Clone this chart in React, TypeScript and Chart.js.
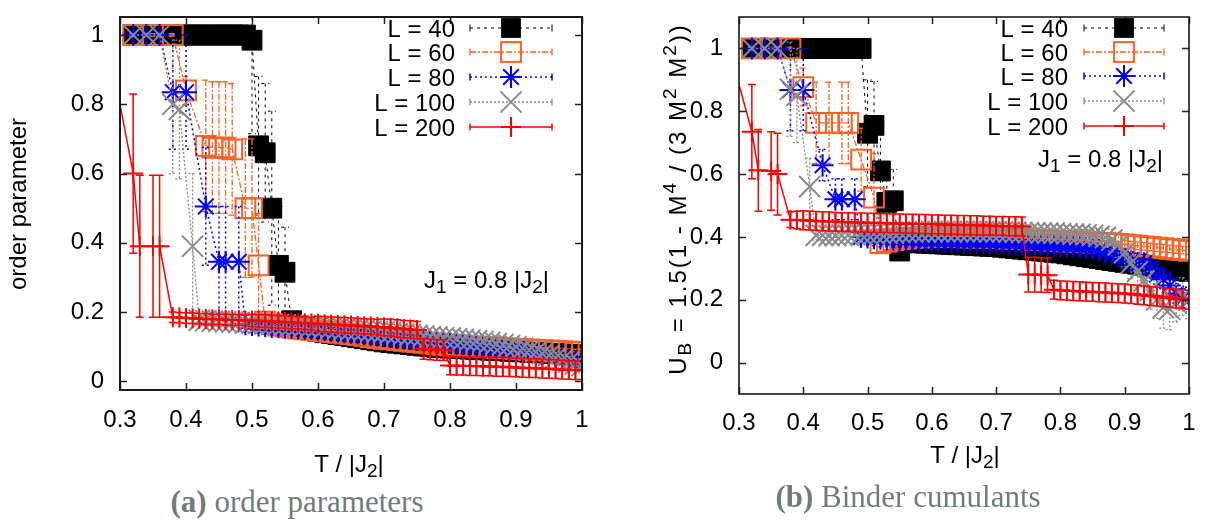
import React, { useEffect, useRef } from 'react';
import { Chart, registerables } from 'chart.js';

Chart.register(...registerables);

const _ = null;

// temperature grid T / |J2|
const TEMPS = [
  0.3, 0.31, 0.32, 0.33, 0.34, 0.35, 0.36, 0.37, 0.38, 0.39,
  0.4, 0.41, 0.42, 0.43, 0.44, 0.45, 0.46, 0.47, 0.48, 0.49,
  0.5, 0.51, 0.52, 0.53, 0.54, 0.55, 0.56, 0.57, 0.58, 0.59,
  0.6, 0.61, 0.62, 0.63, 0.64, 0.65, 0.66, 0.67, 0.68, 0.69,
  0.7, 0.71, 0.72, 0.73, 0.74, 0.75, 0.76, 0.77, 0.78, 0.79,
  0.8, 0.81, 0.82, 0.83, 0.84, 0.85, 0.86, 0.87, 0.88, 0.89,
  0.9, 0.91, 0.92, 0.93, 0.94, 0.95, 0.96, 0.97, 0.98, 0.99,
  1.0,
];

const SERIES_LABELS = ['L = 40', 'L = 60', 'L = 80', 'L = 100', 'L = 200'];
const X_TICKS = [0.3, 0.4, 0.5, 0.6, 0.7, 0.8, 0.9, 1.0];
const Y_TICKS = [0, 0.2, 0.4, 0.6, 0.8, 1.0];

// ---------- (a) order parameter ----------
const OP_L40 = [
  _, _, 1, _, 1, _, 1, _, 1, 1,
  1, 1, 1, 1, 1, 1, 1, 1, 1, 1,
  0.985, 0.68, 0.66, 0.5, 0.335, 0.315, 0.175, 0.16, 0.153, 0.148,
  0.144, 0.141, 0.138, 0.135, 0.132, 0.129, 0.126, 0.123, 0.12, 0.117,
  0.114, 0.112, 0.11, 0.108, 0.106, 0.104, 0.102, 0.1, 0.098, 0.097,
  0.096, 0.095, 0.094, 0.093, 0.092, 0.091, 0.09, 0.089, 0.088, 0.087,
  0.086, 0.085, 0.084, 0.083, 0.082, 0.081, 0.08, 0.079, 0.078, 0.077,
  0.076,
];
const OP_E40 = [
  0, 0, 0.004, 0, 0.004, 0, 0.004, 0, 0.004, 0.004,
  0.004, 0.004, 0.004, 0.004, 0.004, 0.004, 0.004, 0.004, 0.01, 0.02,
  0.27, 0.2, 0.2, 0.28, 0.17, 0.13, 0.02, 0.012, 0.01, 0.01,
  0.008, 0.008, 0.008, 0.008, 0.008, 0.008, 0.008, 0.008, 0.008, 0.008,
  0.008, 0.008, 0.008, 0.008, 0.008, 0.008, 0.008, 0.008, 0.008, 0.008,
  0.008, 0.008, 0.008, 0.008, 0.008, 0.008, 0.008, 0.008, 0.008, 0.008,
  0.008, 0.008, 0.008, 0.008, 0.008, 0.008, 0.008, 0.008, 0.008, 0.008,
  0.008,
];
const OP_L60 = [
  _, _, 1, _, _, 1, _, _, 1, _,
  0.84, _, _, 0.68, 0.675, 0.675, 0.675, 0.67, _, 0.5,
  0.5, 0.335, 0.172, 0.165, 0.161, 0.158, 0.155, 0.152, 0.15, 0.148,
  0.146, 0.144, 0.142, 0.14, 0.138, 0.136, 0.134, 0.131, 0.128, 0.125,
  0.123, 0.121, 0.119, 0.117, 0.115, 0.113, 0.111, 0.109, 0.107, 0.105,
  0.104, 0.103, 0.102, 0.101, 0.1, 0.099, 0.098, 0.097, 0.096, 0.095,
  0.094, 0.093, 0.092, 0.091, 0.09, 0.089, 0.088, 0.087, 0.086, 0.085,
  0.084,
];
const OP_E60 = [
  0, 0, 0.004, 0, 0, 0.004, 0, 0, 0.004, 0,
  0.04, 0, 0, 0.19, 0.19, 0.19, 0.19, 0.19, 0, 0.2,
  0.2, 0.15, 0.012, 0.01, 0.008, 0.008, 0.008, 0.008, 0.008, 0.008,
  0.008, 0.008, 0.008, 0.008, 0.008, 0.008, 0.008, 0.008, 0.008, 0.008,
  0.008, 0.008, 0.008, 0.008, 0.008, 0.008, 0.008, 0.008, 0.008, 0.008,
  0.008, 0.008, 0.008, 0.008, 0.008, 0.008, 0.008, 0.008, 0.008, 0.008,
  0.008, 0.008, 0.008, 0.008, 0.008, 0.008, 0.008, 0.008, 0.008, 0.008,
  0.008,
];
const OP_L80 = [
  _, _, 1, _, 1, _, 1, _, 0.835, _,
  0.835, _, _, 0.505, _, 0.345, 0.345, _, 0.345, 0.165,
  0.163, 0.161, 0.159, 0.157, 0.156, 0.155, 0.154, 0.153, 0.152, 0.151,
  0.15, 0.148, 0.146, 0.144, 0.142, 0.14, 0.138, 0.136, 0.134, 0.132,
  0.13, 0.128, 0.126, 0.124, 0.122, 0.12, 0.118, 0.116, 0.114, 0.112,
  0.111, 0.109, 0.107, 0.105, 0.103, 0.101, 0.099, 0.097, 0.095, 0.093,
  0.091, 0.088, 0.085, 0.082, 0.078, 0.074, 0.07, 0.066, 0.062, 0.058,
  0.054,
];
const OP_E80 = [
  0, 0, 0.004, 0, 0.004, 0, 0.004, 0, 0.165, 0,
  0.165, 0, 0, 0.17, 0, 0.16, 0.16, 0, 0.16, 0.012,
  0.01, 0.01, 0.01, 0.01, 0.01, 0.01, 0.01, 0.01, 0.01, 0.01,
  0.008, 0.008, 0.008, 0.008, 0.008, 0.008, 0.008, 0.008, 0.008, 0.008,
  0.008, 0.008, 0.008, 0.008, 0.008, 0.008, 0.008, 0.008, 0.008, 0.008,
  0.008, 0.008, 0.008, 0.008, 0.008, 0.008, 0.008, 0.008, 0.008, 0.008,
  0.012, 0.012, 0.012, 0.012, 0.012, 0.012, 0.012, 0.012, 0.012, 0.012,
  0.015,
];
const OP_L100 = [
  _, _, 1, _, 1, _, 1, _, 0.8, 0.785,
  _, 0.39, 0.176, 0.175, 0.174, 0.173, 0.172, 0.171, 0.17, 0.169,
  0.168, 0.167, 0.166, 0.165, 0.164, 0.163, 0.162, 0.161, 0.16, 0.159,
  0.158, 0.156, 0.154, 0.152, 0.15, 0.149, 0.148, 0.147, 0.145, 0.143,
  0.142, 0.14, 0.138, 0.136, 0.134, 0.133, 0.131, 0.129, 0.128, 0.126,
  0.125, 0.123, 0.121, 0.119, 0.117, 0.115, 0.112, 0.109, 0.106, 0.103,
  0.1, 0.095, 0.09, 0.085, 0.08, 0.075, 0.068, 0.062, 0.056, 0.05,
  0.045,
];
const OP_E100 = [
  0, 0, 0.004, 0, 0.004, 0, 0.004, 0, 0.2, 0.2,
  0, 0.21, 0.012, 0.01, 0.01, 0.01, 0.01, 0.01, 0.01, 0.01,
  0.01, 0.01, 0.01, 0.01, 0.01, 0.01, 0.01, 0.01, 0.01, 0.01,
  0.008, 0.008, 0.008, 0.008, 0.008, 0.008, 0.008, 0.008, 0.008, 0.008,
  0.008, 0.008, 0.008, 0.008, 0.008, 0.008, 0.008, 0.008, 0.008, 0.008,
  0.008, 0.008, 0.008, 0.008, 0.008, 0.008, 0.008, 0.008, 0.008, 0.008,
  0.015, 0.015, 0.015, 0.015, 0.015, 0.015, 0.015, 0.015, 0.015, 0.015,
  0.02,
];
const OP_L200 = [
  0.8, _, 0.6, 0.39, _, 0.39, 0.39, _, 0.185, 0.184,
  0.183, 0.182, 0.181, 0.18, 0.179, 0.179, 0.178, 0.177, 0.177, 0.176,
  0.176, 0.175, 0.174, 0.173, 0.172, 0.171, 0.17, 0.169, 0.168, 0.167,
  0.166, 0.165, 0.164, 0.163, 0.162, 0.161, 0.16, 0.159, 0.158, 0.157,
  0.156, 0.155, 0.153, 0.151, 0.15, 0.148, 0.094, 0.092, 0.091, 0.09,
  0.046, 0.045, 0.045, 0.044, 0.044, 0.043, 0.043, 0.042, 0.042, 0.041,
  0.04, 0.039, 0.038, 0.038, 0.037, 0.036, 0.035, 0.034, 0.033, 0.032,
  0.032,
];
const OP_E200 = [
  0, 0, 0.23, 0.205, 0, 0.205, 0.205, 0, 0.015, 0.015,
  0.015, 0.015, 0.015, 0.015, 0.015, 0.015, 0.015, 0.015, 0.015, 0.015,
  0.018, 0.018, 0.018, 0.018, 0.018, 0.018, 0.018, 0.018, 0.018, 0.018,
  0.022, 0.022, 0.022, 0.022, 0.022, 0.022, 0.022, 0.022, 0.022, 0.022,
  0.024, 0.024, 0.025, 0.025, 0.025, 0.025, 0.03, 0.03, 0.03, 0.03,
  0.027, 0.027, 0.027, 0.027, 0.027, 0.027, 0.027, 0.027, 0.027, 0.027,
  0.027, 0.027, 0.027, 0.027, 0.027, 0.027, 0.027, 0.027, 0.027, 0.027,
  0.027,
];

// ---------- (b) Binder cumulants ----------
const BC_L40 = [
  _, _, 1, _, 1, _, 1, _, 1, 1,
  1, 1, 1, 1, 1, 1, 1, 1, 1, 1,
  0.73, 0.755, 0.61, 0.51, 0.515, 0.355, 0.385, 0.383, 0.381, 0.38,
  0.379, 0.378, 0.377, 0.376, 0.375, 0.374, 0.373, 0.372, 0.371, 0.37,
  0.369, 0.367, 0.365, 0.363, 0.361, 0.359, 0.357, 0.355, 0.353, 0.351,
  0.349, 0.346, 0.343, 0.34, 0.337, 0.334, 0.331, 0.328, 0.325, 0.322,
  0.319, 0.316, 0.313, 0.31, 0.307, 0.304, 0.301, 0.298, 0.295, 0.292,
  0.29,
];
const BC_E40 = [
  0, 0, 0.004, 0, 0.004, 0, 0.004, 0, 0.004, 0.004,
  0.004, 0.004, 0.004, 0.004, 0.004, 0.004, 0.004, 0.004, 0.01, 0.02,
  0.17, 0.14, 0.15, 0.12, 0.1, 0.03, 0.01, 0.008, 0.008, 0.008,
  0.008, 0.008, 0.008, 0.008, 0.008, 0.008, 0.008, 0.008, 0.008, 0.008,
  0.008, 0.008, 0.008, 0.008, 0.008, 0.008, 0.008, 0.008, 0.008, 0.008,
  0.008, 0.008, 0.008, 0.008, 0.008, 0.008, 0.008, 0.008, 0.008, 0.008,
  0.008, 0.008, 0.008, 0.008, 0.008, 0.008, 0.008, 0.008, 0.008, 0.008,
  0.008,
];
const BC_L60 = [
  _, _, 1, _, _, 1, _, _, 1, _,
  0.877, _, 0.763, _, 0.763, _, 0.763, 0.763, _, 0.646,
  _, 0.525, 0.38, 0.385, 0.39, 0.393, 0.395, 0.397, 0.398, 0.399,
  0.4, 0.4, 0.4, 0.4, 0.4, 0.399, 0.399, 0.398, 0.398, 0.397,
  0.397, 0.396, 0.395, 0.394, 0.393, 0.392, 0.391, 0.39, 0.389, 0.388,
  0.387, 0.386, 0.385, 0.384, 0.383, 0.382, 0.381, 0.38, 0.379, 0.378,
  0.376, 0.374, 0.372, 0.37, 0.368, 0.366, 0.364, 0.362, 0.36, 0.358,
  0.356,
];
const BC_E60 = [
  0, 0, 0.004, 0, 0, 0.004, 0, 0, 0.004, 0,
  0.06, 0, 0.13, 0, 0.13, 0, 0.13, 0.13, 0, 0.1,
  0, 0.14, 0.012, 0.01, 0.008, 0.008, 0.008, 0.008, 0.008, 0.008,
  0.008, 0.008, 0.008, 0.008, 0.008, 0.008, 0.008, 0.008, 0.008, 0.008,
  0.008, 0.008, 0.008, 0.008, 0.008, 0.008, 0.008, 0.008, 0.008, 0.008,
  0.008, 0.008, 0.008, 0.008, 0.008, 0.008, 0.008, 0.008, 0.008, 0.008,
  0.012, 0.012, 0.012, 0.012, 0.012, 0.012, 0.012, 0.012, 0.012, 0.012,
  0.012,
];
const BC_L80 = [
  _, _, 1, _, 1, _, 1, _, 0.868, _,
  0.868, _, _, 0.628, _, 0.52, 0.52, _, 0.52, 0.4,
  0.398, 0.396, 0.394, 0.392, 0.391, 0.39, 0.389, 0.388, 0.387, 0.386,
  0.386, 0.385, 0.385, 0.384, 0.384, 0.383, 0.383, 0.382, 0.382, 0.381,
  0.381, 0.38, 0.379, 0.378, 0.377, 0.376, 0.375, 0.374, 0.373, 0.372,
  0.371, 0.37, 0.369, 0.367, 0.365, 0.362, 0.358, 0.352, 0.345, 0.338,
  0.33, 0.322, 0.318, 0.316, 0.3, 0.28, 0.265, 0.245, 0.22, 0.205,
  0.2,
];
const BC_E80 = [
  0, 0, 0.004, 0, 0.004, 0, 0.004, 0, 0.13, 0,
  0.13, 0, 0, 0.05, 0, 0.065, 0.065, 0, 0.065, 0.02,
  0.012, 0.012, 0.012, 0.012, 0.012, 0.012, 0.012, 0.012, 0.012, 0.012,
  0.01, 0.01, 0.01, 0.01, 0.01, 0.01, 0.01, 0.01, 0.01, 0.01,
  0.01, 0.01, 0.01, 0.01, 0.01, 0.01, 0.01, 0.01, 0.01, 0.01,
  0.01, 0.01, 0.01, 0.01, 0.01, 0.01, 0.01, 0.01, 0.01, 0.01,
  0.03, 0.03, 0.03, 0.03, 0.03, 0.03, 0.03, 0.03, 0.03, 0.03,
  0.04,
];
const BC_L100 = [
  _, _, 1, _, 1, _, 1, _, 0.87, 0.85,
  _, 0.56, 0.405, 0.405, 0.404, 0.404, 0.405, 0.406, 0.407, 0.408,
  0.409, 0.41, 0.411, 0.412, 0.413, 0.414, 0.415, 0.415, 0.416, 0.416,
  0.417, 0.417, 0.417, 0.417, 0.417, 0.417, 0.417, 0.417, 0.417, 0.416,
  0.416, 0.416, 0.415, 0.415, 0.414, 0.414, 0.413, 0.413, 0.412, 0.412,
  0.411, 0.41, 0.409, 0.408, 0.407, 0.405, 0.402, 0.398, 0.39, 0.375,
  0.35, 0.317, 0.29, 0.26, 0.23, 0.2, 0.175, 0.17, 0.19, 0.21,
  0.2,
];
const BC_E100 = [
  0, 0, 0.004, 0, 0.004, 0, 0.004, 0, 0.15, 0.15,
  0, 0.09, 0.015, 0.015, 0.012, 0.012, 0.012, 0.012, 0.012, 0.012,
  0.012, 0.012, 0.012, 0.012, 0.012, 0.012, 0.012, 0.012, 0.012, 0.012,
  0.01, 0.01, 0.01, 0.01, 0.01, 0.01, 0.01, 0.01, 0.01, 0.01,
  0.01, 0.01, 0.01, 0.01, 0.01, 0.01, 0.01, 0.01, 0.01, 0.01,
  0.01, 0.01, 0.012, 0.014, 0.016, 0.02, 0.025, 0.03, 0.035, 0.04,
  0.045, 0.05, 0.05, 0.055, 0.06, 0.06, 0.065, 0.065, 0.06, 0.06,
  0.06,
];
const BC_L200 = [
  0.885, _, 0.735, 0.612, _, 0.61, 0.6, _, 0.455, 0.454,
  0.453, 0.452, 0.451, 0.45, 0.449, 0.448, 0.447, 0.447, 0.446, 0.446,
  0.445, 0.445, 0.444, 0.444, 0.443, 0.443, 0.442, 0.442, 0.441, 0.441,
  0.44, 0.44, 0.439, 0.439, 0.438, 0.438, 0.437, 0.437, 0.436, 0.436,
  0.435, 0.435, 0.434, 0.434, 0.433, 0.28, 0.28, 0.279, 0.278, 0.232,
  0.23, 0.229, 0.228, 0.227, 0.226, 0.225, 0.224, 0.223, 0.222, 0.221,
  0.22, 0.218, 0.216, 0.214, 0.212, 0.21, 0.208, 0.206, 0.204, 0.202,
  0.2,
];
const BC_E200 = [
  0, 0, 0.15, 0.13, 0, 0.125, 0.13, 0, 0.025, 0.028,
  0.03, 0.03, 0.03, 0.03, 0.03, 0.03, 0.03, 0.03, 0.03, 0.03,
  0.03, 0.03, 0.03, 0.03, 0.03, 0.03, 0.03, 0.03, 0.03, 0.03,
  0.03, 0.03, 0.03, 0.03, 0.03, 0.03, 0.03, 0.03, 0.03, 0.03,
  0.03, 0.03, 0.03, 0.03, 0.03, 0.055, 0.055, 0.055, 0.055, 0.03,
  0.03, 0.03, 0.03, 0.03, 0.03, 0.03, 0.03, 0.03, 0.03, 0.03,
  0.03, 0.03, 0.03, 0.03, 0.03, 0.03, 0.03, 0.03, 0.03, 0.03,
  0.03,
];

// ---------- styles ----------
const FONT = '"Liberation Sans", Arial, Helvetica, sans-serif';
const STYLES = [
  { color: '#000000', dash: [3, 4], lineWidth: 1, pointStyle: 'rect', radius: 14, filled: true, pointWidth: 1 },
  { color: '#ff6020', dash: [6, 2, 2, 2], lineWidth: 1.3, pointStyle: 'rect', radius: 14, filled: false, pointWidth: 2 },
  { color: '#0000ff', dash: [2, 3], lineWidth: 1.5, pointStyle: 'star', radius: 11, filled: false, pointWidth: 2 },
  { color: '#8a8a8a', dash: [2, 2], lineWidth: 1.3, pointStyle: 'crossRot', radius: 15, filled: false, pointWidth: 2 },
  { color: '#ff0000', dash: [], lineWidth: 1.5, pointStyle: 'cross', radius: 10, filled: false, pointWidth: 2 },
];
const CAP = 4;

const OP_PANEL = {
  key: 'a',
  series: [OP_L40, OP_L60, OP_L80, OP_L100, OP_L200],
  errors: [OP_E40, OP_E60, OP_E80, OP_E100, OP_E200],
  yMin: -0.025, yMax: 1.052,
  left: 0, canvasW: 600, canvasH: 480, padTop: 7, padRight: 18, yAxisW: 120, xAxisH: 90,
  xTickPad: 16, yTickPad: 16,
  yTitle: 'order parameter', yTitleX: 26, yTitleY: 204, yTitleSpacing: 0,
  xTitleX: 349, xTitleY: 472,
  legendTextRight: 455, legendSampleL: 470, legendSampleR: 552, legendRows: [28, 52, 77, 102, 127],
  noteRight: 549, noteY: 288,
  frameWidth: 2,
};

const BC_PANEL = {
  key: 'b',
  series: [BC_L40, BC_L60, BC_L80, BC_L100, BC_L200],
  errors: [BC_E40, BC_E60, BC_E80, BC_E100, BC_E200],
  yMin: -0.1, yMax: 1.1,
  left: 620, canvasW: 586, canvasH: 480, padTop: 8, padRight: 13, yAxisW: 119, xAxisH: 86,
  xTickPad: 15, yTickPad: 16,
  yTitle: 'U_B = 1.5(1 - M^4 / (3 M^2 M^2))', yTitleX: 66, yTitleY: 200, yTitleSpacing: 2,
  xTitleX: 345, xTitleY: 463,
  legendTextRight: 448, legendSampleL: 464, legendSampleR: 544, legendRows: [28, 52, 76, 101, 126],
  noteRight: 543, noteY: 167,
  frameWidth: 1.6,
};

// ---------- text helpers ----------
type Seg = { t: string; s: number };
function parseRich(str: string): Seg[] {
  const out: Seg[] = [];
  let buf = '';
  let i = 0;
  while (i < str.length) {
    const ch = str[i];
    if ((ch === '_' || ch === '^') && i + 1 < str.length) {
      if (buf) { out.push({ t: buf, s: 0 }); buf = ''; }
      let content = '';
      if (str[i + 1] === '{') {
        const end = str.indexOf('}', i + 2);
        content = str.slice(i + 2, end);
        i = end + 1;
      } else {
        content = str[i + 1];
        i += 2;
      }
      out.push({ t: content, s: ch === '^' ? 1 : -1 });
    } else {
      buf += ch;
      i++;
    }
  }
  if (buf) out.push({ t: buf, s: 0 });
  return out;
}

function drawRich(ctx: CanvasRenderingContext2D, text: string, x: number, y: number, size: number, align: string, color: string, spacing = 0) {
  const segs = parseRich(text);
  const fontFor = (s: number) => `${s === 0 ? size : Math.round(size * 0.8)}px ${FONT}`;
  let total = 0;
  for (const seg of segs) {
    ctx.font = fontFor(seg.s);
    for (const ch of seg.t) total += ctx.measureText(ch).width + spacing;
  }
  total -= spacing;
  let cx = align === 'left' ? x : align === 'right' ? x - total : x - total / 2;
  ctx.fillStyle = color;
  ctx.textAlign = 'left';
  ctx.textBaseline = 'alphabetic';
  for (const seg of segs) {
    ctx.font = fontFor(seg.s);
    const dy = seg.s === 1 ? -size * 0.42 : seg.s === -1 ? size * 0.22 : 0;
    for (const ch of seg.t) {
      ctx.fillText(ch, cx, y + dy);
      cx += ctx.measureText(ch).width + spacing;
    }
  }
}

function drawMarker(ctx: CanvasRenderingContext2D, st: any, x: number, y: number) {
  ctx.save();
  ctx.setLineDash([]);
  ctx.strokeStyle = st.color;
  ctx.fillStyle = st.color;
  ctx.lineWidth = st.pointWidth;
  const r = st.radius;
  const d = r * Math.SQRT1_2;
  ctx.beginPath();
  if (st.pointStyle === 'rect') {
    if (st.filled) ctx.fillRect(x - d, y - d, 2 * d, 2 * d);
    else ctx.strokeRect(x - d, y - d, 2 * d, 2 * d);
  } else if (st.pointStyle === 'star') {
    ctx.moveTo(x - r, y); ctx.lineTo(x + r, y);
    ctx.moveTo(x, y - r); ctx.lineTo(x, y + r);
    ctx.moveTo(x - d, y - d); ctx.lineTo(x + d, y + d);
    ctx.moveTo(x - d, y + d); ctx.lineTo(x + d, y - d);
    ctx.stroke();
  } else if (st.pointStyle === 'crossRot') {
    ctx.moveTo(x - d, y - d); ctx.lineTo(x + d, y + d);
    ctx.moveTo(x - d, y + d); ctx.lineTo(x + d, y - d);
    ctx.stroke();
  } else {
    ctx.moveTo(x - r, y); ctx.lineTo(x + r, y);
    ctx.moveTo(x, y - r); ctx.lineTo(x, y + r);
    ctx.stroke();
  }
  ctx.restore();
}

const fmtTick = (v: any) => {
  const n = Math.round(Number(v) * 10) / 10;
  return n === 1 ? '1' : n === 0 ? '0' : String(n);
};

function buildConfig(spec: any): any {
  const datasets = spec.series.map((ys: (number | null)[], si: number) => {
    const st = STYLES[si];
    const errs = spec.errors[si];
    const pts = TEMPS.map((t, i) => ({ x: t, y: ys[i], e: errs[i] })).filter((p) => p.y !== null);
    return {
      label: SERIES_LABELS[si],
      data: pts,
      borderColor: st.color,
      backgroundColor: st.color,
      borderWidth: st.lineWidth,
      borderDash: st.dash,
      pointStyle: st.pointStyle,
      pointRadius: (c: any) => (c.parsed && c.parsed.x < 0.305 ? 0 : st.radius),
      pointHoverRadius: st.radius,
      pointBorderWidth: st.pointWidth,
      pointBorderColor: st.color,
      pointBackgroundColor: st.filled ? st.color : 'rgba(0,0,0,0)',
      tension: 0,
      fill: false,
      order: 5 - si,
    };
  });

  const gp = {
    id: 'gp_' + spec.key,
    beforeDatasetDraw(chart: any, args: any) {
      const ds = chart.data.datasets[args.index];
      const st = STYLES[args.index];
      const { ctx, chartArea: a } = chart;
      const xs = chart.scales.x;
      const ysc = chart.scales.y;
      ctx.save();
      ctx.beginPath();
      ctx.rect(a.left, a.top, a.right - a.left, a.bottom - a.top);
      ctx.clip();
      ctx.strokeStyle = st.color;
      ctx.lineWidth = st.lineWidth;
      ctx.setLineDash(st.dash);
      ctx.beginPath();
      for (const p of ds.data) {
        if (!p.e) continue;
        const px = xs.getPixelForValue(p.x);
        const y1 = ysc.getPixelForValue(p.y + p.e);
        const y2 = ysc.getPixelForValue(p.y - p.e);
        ctx.moveTo(px, y1); ctx.lineTo(px, y2);
        ctx.moveTo(px - CAP, y1); ctx.lineTo(px + CAP, y1);
        ctx.moveTo(px - CAP, y2); ctx.lineTo(px + CAP, y2);
      }
      ctx.stroke();
      ctx.restore();
    },
    afterDatasetsDraw(chart: any) {
      const { ctx, chartArea: a } = chart;
      const xs = chart.scales.x;
      const ysc = chart.scales.y;
      ctx.save();
      ctx.setLineDash([]);
      ctx.strokeStyle = '#222';
      ctx.lineWidth = 1.5;
      ctx.beginPath();
      for (const v of X_TICKS) {
        const px = Math.round(xs.getPixelForValue(v)) + 0.5;
        ctx.moveTo(px, a.bottom); ctx.lineTo(px, a.bottom - 7);
        ctx.moveTo(px, a.top); ctx.lineTo(px, a.top + 7);
      }
      for (const v of Y_TICKS) {
        const py = Math.round(ysc.getPixelForValue(v)) + 0.5;
        ctx.moveTo(a.left, py); ctx.lineTo(a.left + 7, py);
        ctx.moveTo(a.right, py); ctx.lineTo(a.right - 7, py);
      }
      ctx.stroke();
      ctx.lineWidth = spec.frameWidth;
      ctx.strokeStyle = '#1a1a1a';
      ctx.strokeRect(a.left, a.top, a.right - a.left, a.bottom - a.top);
      ctx.restore();
    },
    afterDraw(chart: any) {
      const ctx = chart.ctx as CanvasRenderingContext2D;
      ctx.save();
      // legend
      spec.legendRows.forEach((ry: number, si: number) => {
        const st = STYLES[si];
        drawRich(ctx, SERIES_LABELS[si], spec.legendTextRight, ry + 8.5, 24, 'right', '#000');
        ctx.save();
        ctx.strokeStyle = st.color;
        ctx.lineWidth = st.lineWidth;
        ctx.setLineDash(st.dash);
        ctx.beginPath();
        ctx.moveTo(spec.legendSampleL, ry); ctx.lineTo(spec.legendSampleR, ry);
        ctx.stroke();
        ctx.setLineDash([]);
        ctx.beginPath();
        ctx.moveTo(spec.legendSampleL, ry - 3.5); ctx.lineTo(spec.legendSampleL, ry + 3.5);
        ctx.moveTo(spec.legendSampleR, ry - 3.5); ctx.lineTo(spec.legendSampleR, ry + 3.5);
        ctx.stroke();
        ctx.restore();
        drawMarker(ctx, st, (spec.legendSampleL + spec.legendSampleR) / 2, ry);
      });
      // annotation
      drawRich(ctx, 'J_1 = 0.8 |J_2|', spec.noteRight, spec.noteY, 24, 'right', '#000');
      // x title
      drawRich(ctx, 'T / |J_2|', spec.xTitleX, spec.xTitleY, 24, 'center', '#000');
      // y title
      ctx.save();
      ctx.translate(spec.yTitleX, spec.yTitleY);
      ctx.rotate(-Math.PI / 2);
      drawRich(ctx, spec.yTitle, 0, 0, 24, 'center', '#000', spec.yTitleSpacing);
      ctx.restore();
      ctx.restore();
    },
  };

  return {
    type: 'line',
    data: { datasets },
    plugins: [gp],
    options: {
      animation: false,
      responsive: false,
      devicePixelRatio: 1,
      events: [],
      layout: { padding: { left: 0, top: spec.padTop, right: spec.padRight, bottom: 0 } },
      plugins: { legend: { display: false }, tooltip: { enabled: false } },
      scales: {
        x: {
          type: 'linear',
          min: 0.3,
          max: 1.0,
          afterBuildTicks: (s: any) => { s.ticks = X_TICKS.map((v) => ({ value: v })); },
          afterFit: (s: any) => { s.height = spec.xAxisH; s.paddingLeft = 0; s.paddingRight = 0; },
          ticks: { padding: spec.xTickPad, color: '#000', font: { family: FONT, size: 24 }, callback: fmtTick, maxRotation: 0, autoSkip: false },
          grid: { display: false, drawTicks: false },
          border: { display: false },
        },
        y: {
          type: 'linear',
          min: spec.yMin,
          max: spec.yMax,
          afterBuildTicks: (s: any) => { s.ticks = Y_TICKS.map((v) => ({ value: v })); },
          afterFit: (s: any) => { s.width = spec.yAxisW; s.paddingTop = 0; s.paddingBottom = 0; },
          ticks: { padding: spec.yTickPad, color: '#000', font: { family: FONT, size: 24 }, callback: fmtTick, autoSkip: false },
          grid: { display: false, drawTicks: false },
          border: { display: false },
        },
      },
    },
  };
}

function Panel({ spec }: { spec: any }) {
  const ref = useRef<HTMLCanvasElement>(null);
  useEffect(() => {
    const canvas = ref.current;
    if (!canvas) return;
    const chart = new Chart(canvas, buildConfig(spec));
    return () => chart.destroy();
  }, [spec]);
  return (
    <canvas
      ref={ref}
      width={spec.canvasW}
      height={spec.canvasH}
      style={{ position: 'absolute', left: spec.left, top: 0, width: spec.canvasW, height: spec.canvasH }}
    />
  );
}

const captionStyle = (cx: number, top: number): React.CSSProperties => ({
  position: 'absolute',
  left: cx,
  top,
  transform: 'translateX(-50%)',
  fontFamily: '"Liberation Serif", "Times New Roman", serif',
  fontSize: 31,
  lineHeight: 1,
  color: '#707c7c',
  whiteSpace: 'nowrap',
});

export default function App() {
  return (
    <div style={{ position: 'absolute', left: 0, top: 0, width: 1206, height: 523, background: '#ffffff', overflow: 'hidden' }}>
      <Panel spec={OP_PANEL} />
      <Panel spec={BC_PANEL} />
      <div style={captionStyle(297, 486)}><b>(a)</b> order parameters</div>
      <div style={captionStyle(908, 481)}><b>(b)</b> Binder cumulants</div>
    </div>
  );
}
